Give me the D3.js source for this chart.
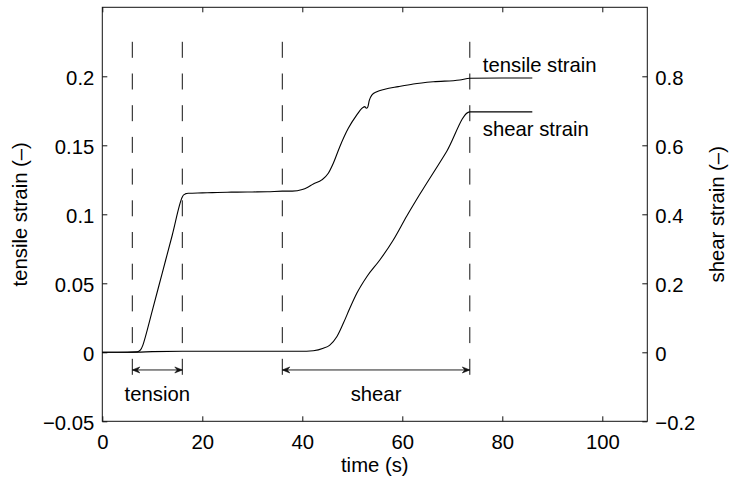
<!DOCTYPE html>
<html><head><meta charset="utf-8">
<script src="https://cdn.jsdelivr.net/npm/d3@7"></script>
<style>
html,body{margin:0;padding:0;background:#fff;}
svg{display:block;font-family:"Liberation Sans",Arial,Helvetica,sans-serif;}
</style></head>
<body><svg id="c" width="731" height="486"></svg>
<script>
// ---- data ----
const tensileTime = [0,5,7,7.6,8.1,8.6,10,12,14,16,16.2,16.6,17.2,20,22,25,27,30,33,36,38,40,41,42.2,43.9,45.2,46.2,47.5,49.2,50.9,51.9,52.5,52.8,53.1,53.4,53.9,54.9,56.5,59.2,62.2,66.2,71.5,73.5,80,86];
const tensileStrain = [0,0,0.0003,0.0015,0.005,0.011,0.0302,0.0576,0.0850,0.1125,0.1138,0.1148,0.1152,0.1155,0.1157,0.1160,0.1161,0.1162,0.1163,0.1168,0.1168,0.1180,0.1195,0.1220,0.1249,0.1297,0.1370,0.1490,0.1623,0.1720,0.1768,0.1780,0.1768,0.1778,0.1825,0.1864,0.1888,0.1906,0.1925,0.1944,0.1960,0.1973,0.1986,0.1988,0.1988];
const shearTime = [0,7,10,16,25,35,39.5,42.2,44.2,45.5,46.9,48.2,49.5,50.9,52.9,55.5,58.2,60.9,63.5,68.9,73.5,80,86];
const shearStrain = [0,0.0005,0.002,0.003,0.003,0.003,0.003,0.0046,0.0116,0.021,0.045,0.084,0.1275,0.171,0.219,0.2675,0.3255,0.395,0.458,0.583,0.697,0.697,0.697];
const phaseMarks = [6,16,36,73.5];
const phaseNames = ["tension","shear"];
const phaseSpans = [[6,16],[36,73.5]];
const xTicks = [0,20,40,60,80,100];
const xTickLabels = ["0","20","40","60","80","100"];
const leftTicks = [-0.05,0,0.05,0.1,0.15,0.2];
const leftTickLabels = ["\u22120.05","0","0.05","0.1","0.15","0.2"];
const rightTicks = [-0.2,0,0.2,0.4,0.6,0.8];
const rightTickLabels = ["\u22120.2","0","0.2","0.4","0.6","0.8"];
const seriesLabels = ["tensile strain","shear strain"];

// ---- layout ----
const X0=102.3, X1=647.3, Y0=7.3, Y1=421.3;
const svg = d3.select("#c");
const x = d3.scaleLinear().domain([0,109]).range([X0,X1]);
const yL = d3.scaleLinear().domain([-0.05,0.25]).range([Y1,Y0]);
const yR = d3.scaleLinear().domain([-0.2,1.0]).range([Y1,Y0]);
const FS = 20.3;
const ink = "#111";

// box
svg.append("rect").attr("x",X0).attr("y",Y0).attr("width",X1-X0).attr("height",Y1-Y0)
  .attr("fill","none").attr("stroke",ink).attr("stroke-width",1);

function styleAxis(g){
  g.select(".domain").remove();
  g.selectAll(".tick line").attr("stroke",ink);
  g.selectAll(".tick text").attr("fill","#000").style("font-size",FS+"px").style("font-family","'Liberation Sans',Arial,sans-serif");
}
// bottom
const gb = svg.append("g").attr("transform",`translate(0,${Y1})`)
  .call(d3.axisBottom(x).tickValues(xTicks).tickFormat((d,i)=>xTickLabels[i]).tickSizeInner(-5).tickSizeOuter(0).tickPadding(13));
styleAxis(gb);
gb.selectAll(".tick text").attr("dy","0.71em");
// top ticks
svg.append("g").attr("transform",`translate(0,${Y0})`)
  .call(d3.axisTop(x).tickValues(xTicks).tickFormat("").tickSizeInner(-5).tickSizeOuter(0))
  .call(styleAxis);
// left
const gl = svg.append("g").attr("transform",`translate(${X0},0)`)
  .call(d3.axisLeft(yL).tickValues(leftTicks).tickFormat((d,i)=>leftTickLabels[i]).tickSizeInner(-5).tickSizeOuter(0).tickPadding(8));
styleAxis(gl);
gl.selectAll(".tick text").attr("dy","0.42em");
// right
const gr = svg.append("g").attr("transform",`translate(${X1},0)`)
  .call(d3.axisRight(yR).tickValues(rightTicks).tickFormat((d,i)=>rightTickLabels[i]).tickSizeInner(-5).tickSizeOuter(0).tickPadding(8));
styleAxis(gr);
gr.selectAll(".tick text").attr("dy","0.42em");

// axis titles
svg.append("text").attr("x",(X0+X1)/2).attr("y",472).attr("text-anchor","middle")
  .style("font-size",FS+"px").text("time (s)");
svg.append("text").attr("transform",`translate(27,${(Y0+Y1)/2}) rotate(-90)`).attr("text-anchor","middle")
  .style("font-size",FS+"px").text("tensile strain (\u2013)");
svg.append("text").attr("transform",`translate(724,${(Y0+Y1)/2}) rotate(-90)`).attr("text-anchor","middle")
  .style("font-size",FS+"px").text("shear strain (\u2013)");

// dashed phase lines
svg.append("g").selectAll("line").data(phaseMarks).join("line")
  .attr("x1",d=>x(d)).attr("x2",d=>x(d))
  .attr("y1",yL(0.225)).attr("y2",yL(-0.0175))
  .attr("stroke",ink).attr("stroke-width",1).attr("stroke-dasharray","16,15.7");

// arrows
function head(px,py,dir){
  const L=7.5,W=3,N=5;
  return `M${px},${py}L${px-dir*L},${py-W}L${px-dir*N},${py}L${px-dir*L},${py+W}Z`;
}
const arrowY = yL(-0.0128);
phaseSpans.forEach(s=>{
  const a=x(s[0]), b=x(s[1]);
  svg.append("line").attr("x1",a).attr("x2",b).attr("y1",arrowY).attr("y2",arrowY)
    .attr("stroke","#222").attr("stroke-width",1);
  svg.append("path").attr("d",head(a,arrowY,-1)).attr("fill","#111").attr("stroke","#111").attr("stroke-width",0.6);
  svg.append("path").attr("d",head(b,arrowY,1)).attr("fill","#111").attr("stroke","#111").attr("stroke-width",0.6);
});
svg.append("g").selectAll("text").data(phaseSpans).join("text")
  .attr("x",d=>x((d[0]+d[1])/2)).attr("y",401).attr("text-anchor","middle")
  .style("font-size",FS+"px").text((d,i)=>phaseNames[i]);

// curves
const line = d3.line().curve(d3.curveMonotoneX);
const tPts = tensileTime.map((t,i)=>[x(t),yL(tensileStrain[i])]);
const sPts = shearTime.map((t,i)=>[x(t),yR(shearStrain[i])]);
svg.append("path").attr("d",line(tPts)).attr("fill","none").attr("stroke","#000").attr("stroke-width",1.1);
svg.append("path").attr("d",line(sPts)).attr("fill","none").attr("stroke","#000").attr("stroke-width",1.1);

// series labels
svg.append("text").attr("x",x(76.1)).attr("y",71.5).style("font-size",FS+"px").text(seriesLabels[0]);
svg.append("text").attr("x",x(76.1)).attr("y",136).style("font-size",FS+"px").text(seriesLabels[1]);
</script></body></html>
